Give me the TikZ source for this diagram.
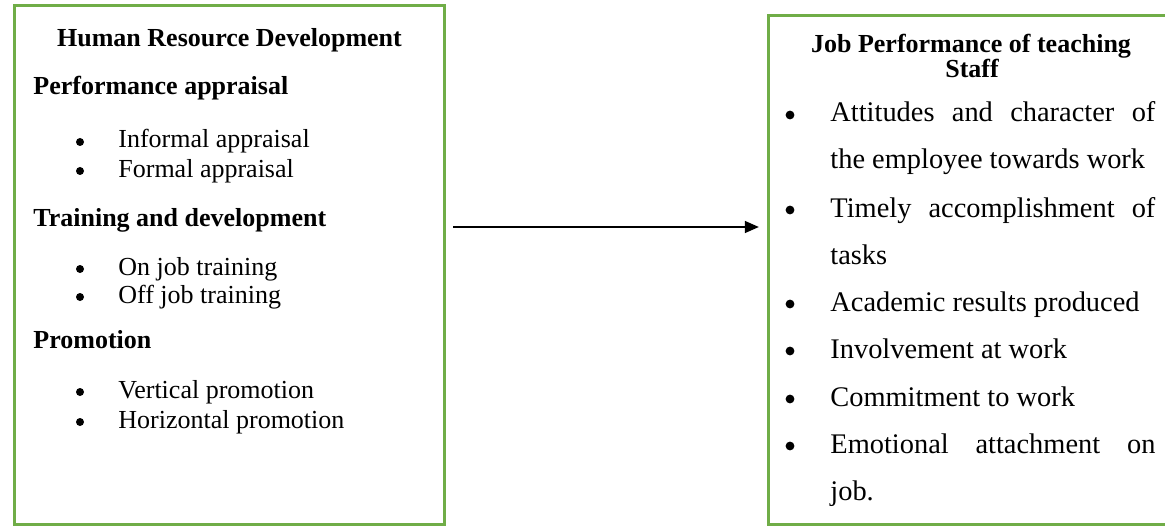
\documentclass[tikz,border=0pt]{standalone}
\usepackage{fontspec}
\setmainfont{Liberation Serif}
\usetikzlibrary{arrows.meta, positioning}
\definecolor{boxgreen}{HTML}{70AD47}
\newcommand{\fillline}[1]{\makebox[162.5pt][s]{#1}}

\begin{document}
\begin{tikzpicture}[
  x=0.5pt, y=-0.5pt,
  every node/.style={inner sep=0pt},
  panel/.style={rectangle, draw=boxgreen, line width=1.2pt},
  ltitle/.style={font=\bfseries\fontsize{13}{15}\selectfont, anchor=base},
  lhead/.style={font=\bfseries\fontsize{13}{15}\selectfont, anchor=base west},
  litem/.style={font=\fontsize{13}{15}\selectfont, anchor=base west},
  ldot/.style={circle, fill=black, minimum size=4pt},
  ritem/.style={font=\fontsize{14.2}{17}\selectfont, anchor=base west},
  rdot/.style={circle, fill=black, minimum size=4.4pt},
  arrow/.style={-{Triangle[length=7pt, width=6pt]}, line width=0.75pt, color=black},
]
  \useasboundingbox (0,0) rectangle (1165,529);
  \clip (0,0) rectangle (1165,529);

  % the two boxes
  \node[panel, minimum width=215pt, minimum height=259.5pt] (hrd) at (229.5,265) {};
  \node[panel, minimum width=205.75pt, minimum height=254.5pt] (jps) at (974.25,270) {};

  % left box: HRD practices
  \node[ltitle] (hrdtitle) at (229.5,47) {Human Resource Development};

  \node[lhead] (pa) at (33,95) {Performance appraisal};
  \node[ldot] (pa1dot) at (80,142) {};
  \node[litem] (pa1) at (118,148) {Informal appraisal};
  \node[ldot] (pa2dot) at (80,171) {};
  \node[litem] (pa2) at (118,177) {Formal appraisal};

  \node[lhead] (td) at (33,227) {Training and development};
  \node[ldot] (td1dot) at (80,269) {};
  \node[litem] (td1) at (118,275) {On job training};
  \node[ldot] (td2dot) at (80,297) {};
  \node[litem] (td2) at (118,303) {Off job training};

  \node[lhead] (pr) at (33,348) {Promotion};
  \node[ldot] (pr1dot) at (80,392) {};
  \node[litem] (pr1) at (118,398) {Vertical promotion};
  \node[ldot] (pr2dot) at (80,422) {};
  \node[litem] (pr2) at (118,428) {Horizontal promotion};

  % right box: job performance
  \node[ltitle] (jptitle) at (971,53) {Job Performance of teaching};
  \node[ltitle] (jptitleb) at (972,78) {Staff};

  \node[rdot] (att_dot) at (790,115) {};
  \node[ritem] (att) at (830,122) {\fillline{Attitudes and character of}};
  \node[ritem] (attb) at (830,169) {the employee towards work};
  \node[rdot] (tim_dot) at (790,210) {};
  \node[ritem] (tim) at (830,217) {\fillline{Timely accomplishment of}};
  \node[ritem] (timb) at (830,264) {tasks};
  \node[rdot] (aca_dot) at (790,304) {};
  \node[ritem] (aca) at (830,311) {Academic results produced};
  \node[rdot] (inv_dot) at (790,351) {};
  \node[ritem] (inv) at (830,358) {Involvement at work};
  \node[rdot] (com_dot) at (790,399) {};
  \node[ritem] (com) at (830,406) {Commitment to work};
  \node[rdot] (emo_dot) at (790,446) {};
  \node[ritem] (emo) at (830,453) {\fillline{Emotional attachment on}};
  \node[ritem] (emob) at (830,500) {job.};

  \draw[arrow] ([xshift=3.75pt, yshift=19pt]hrd.east) -- ([xshift=-4.25pt, yshift=21.5pt]jps.west);
\end{tikzpicture}
\end{document}
